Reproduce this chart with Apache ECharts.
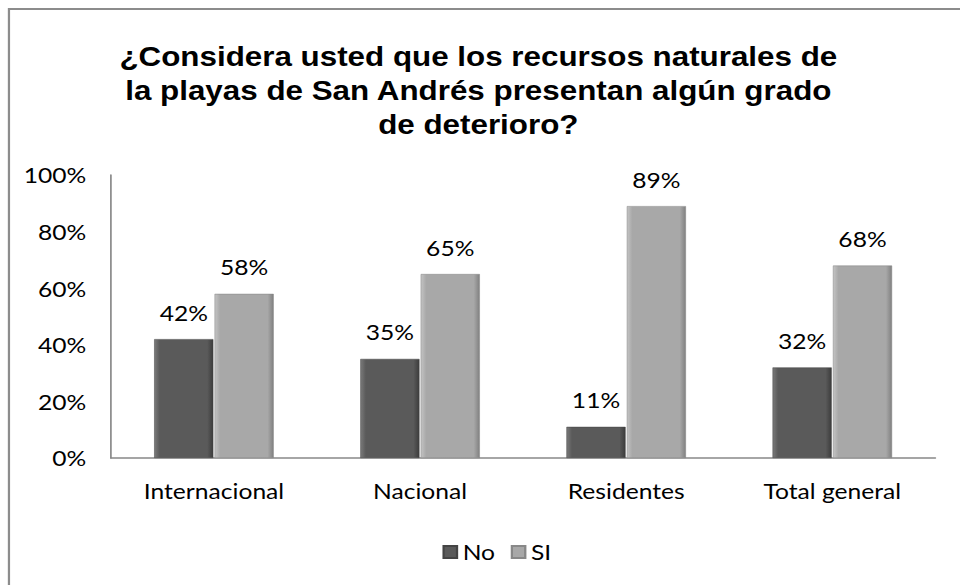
<!DOCTYPE html>
<html>
<head>
<meta charset="utf-8">
<script src="https://cdn.jsdelivr.net/npm/echarts@6/dist/echarts.min.js"></script>
<style>
  html, body { margin: 0; padding: 0; background: #fff; overflow: hidden; }
  /* the chart is laid out on a narrower canvas and widened to fill the page */
  #chart { width: 857px; height: 585px; transform: scaleX(1.1202); transform-origin: 0 0; }
</style>
</head>
<body>
<div id="chart"></div>
<script>
// Survey answers per visitor group (percent)
var categories = ['Internacional', 'Nacional', 'Residentes', 'Total general'];
var noValues = [42, 35, 11, 32];
var siValues = [58, 65, 89, 68];
var yTicks = [0, 20, 40, 60, 80, 100];

var chart = echarts.init(document.getElementById('chart'), null, { renderer: 'svg' });

function bevel(base, light, dark) {
  return new echarts.graphic.LinearGradient(0, 0, 1, 0, [
    { offset: 0, color: light },
    { offset: 0.09, color: base },
    { offset: 0.9, color: base },
    { offset: 1, color: dark }
  ]);
}

var labelFont = { fontFamily: 'Lato, "Open Sans", sans-serif', fontSize: 22, color: '#000' };

chart.setOption({
  animation: false,
  backgroundColor: '#fff',
  graphic: [{
    type: 'rect',
    shape: { x: 8, y: 9, width: 1000, height: 1000 },
    style: { fill: 'none', stroke: '#8c8c8c', lineWidth: 2 },
    silent: true
  }],
  title: {
    text: '¿Considera usted que los recursos naturales de\nla playas de San Andrés presentan algún grado\nde deterioro?',
    left: 422,
    textAlign: 'center',
    top: 34,
    textStyle: {
      fontFamily: '"Liberation Sans", Arial, sans-serif',
      fontWeight: 'bold',
      fontSize: 28,
      lineHeight: 34,
      color: '#000'
    }
  },
  legend: {
    data: ['No', 'SI'],
    left: 390,
    top: 536,
    itemWidth: 12,
    itemHeight: 12,
    itemGap: 14,
    icon: 'rect',
    textStyle: labelFont
  },
  grid: { left: 99, right: 22, top: 175, bottom: 127 },
  xAxis: {
    type: 'category',
    data: categories,
    axisLine: { lineStyle: { color: '#888', width: 1.5 } },
    axisTick: { show: false },
    axisLabel: Object.assign({ margin: 22 }, labelFont)
  },
  yAxis: {
    type: 'value',
    min: yTicks[0],
    max: yTicks[yTicks.length - 1],
    interval: 20,
    axisLine: { show: true, lineStyle: { color: '#888', width: 1.5 } },
    axisTick: { show: false },
    splitLine: { show: false },
    axisLabel: Object.assign({ margin: 22, formatter: '{value}%' }, labelFont)
  },
  series: [{
    name: 'No',
    type: 'bar',
    data: noValues,
    barGap: '2%',
    barCategoryGap: '42%',
    itemStyle: { color: bevel('#5a5a5a', '#7a7a7a', '#3c3c3c'), borderColor: '#444', borderWidth: 0.5 },
    label: Object.assign({ show: true, position: 'top', distance: 16, formatter: '{c}%' }, labelFont)
  }, {
    name: 'SI',
    type: 'bar',
    data: siValues,
    itemStyle: { color: bevel('#a8a8a8', '#c4c4c4', '#808080'), borderColor: '#888', borderWidth: 0.5 },
    label: Object.assign({ show: true, position: 'top', distance: 16, formatter: '{c}%' }, labelFont)
  }]
});
</script>
</body>
</html>
